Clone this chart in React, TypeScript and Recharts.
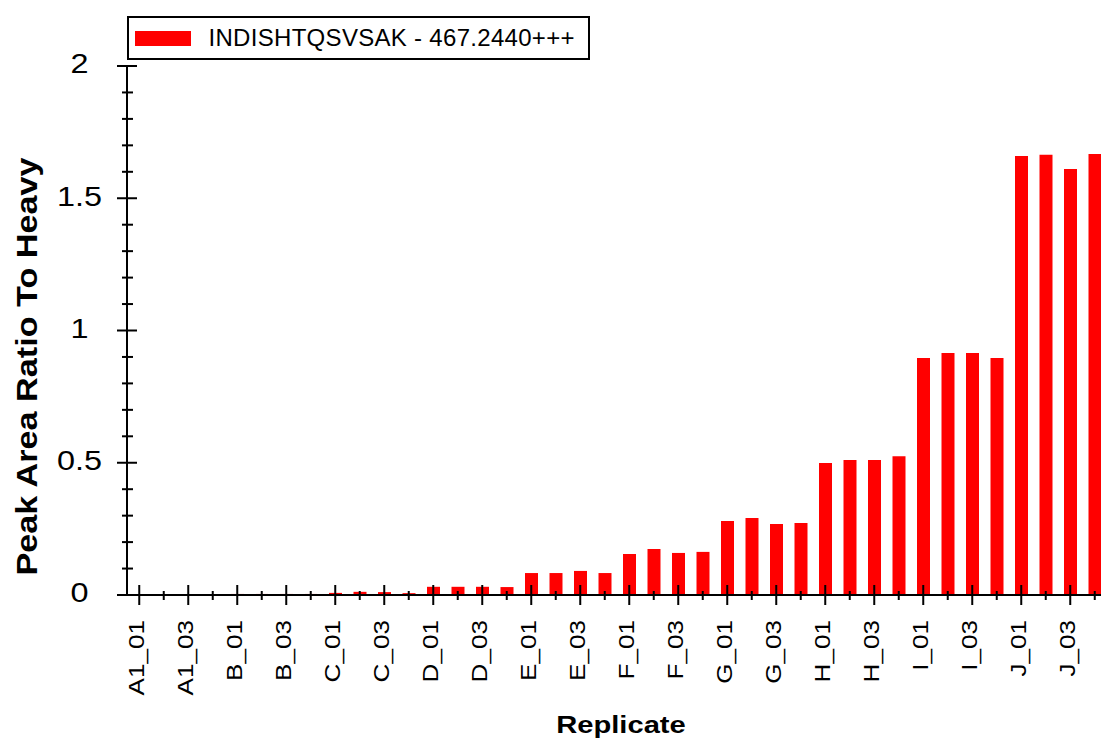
import { Bar, BarChart, Legend, XAxis, YAxis } from "recharts";

// Peak area ratio to heavy, one bar per replicate (Skyline-style export).

const replicates = [
  "A1_01", "A1_02", "A1_03", "A1_04",
  "B_01", "B_02", "B_03", "B_04",
  "C_01", "C_02", "C_03", "C_04",
  "D_01", "D_02", "D_03", "D_04",
  "E_01", "E_02", "E_03", "E_04",
  "F_01", "F_02", "F_03", "F_04",
  "G_01", "G_02", "G_03", "G_04",
  "H_01", "H_02", "H_03", "H_04",
  "I_01", "I_02", "I_03", "I_04",
  "J_01", "J_02", "J_03", "J_04",
];

const ratios = [
  0, 0, 0, 0.002,
  0.004, 0.004, 0.004, 0.004,
  0.008, 0.012, 0.011, 0.007,
  0.031, 0.031, 0.031, 0.03,
  0.083, 0.083, 0.091, 0.083,
  0.155, 0.174, 0.159, 0.163,
  0.28, 0.291, 0.268, 0.272,
  0.499, 0.51, 0.51, 0.525,
  0.896, 0.915, 0.915, 0.896,
  1.66, 1.664, 1.611, 1.667,
];

const yTicks = [
  0, 0.1, 0.2, 0.3, 0.4, 0.5, 0.6, 0.7, 0.8, 0.9, 1,
  1.1, 1.2, 1.3, 1.4, 1.5, 1.6, 1.7, 1.8, 1.9, 2,
];
const yMajor = [0, 0.5, 1, 1.5, 2];

const seriesName = "INDISHTQSVSAK - 467.2440+++";
const xTitle = "Replicate";
const yTitle = "Peak Area Ratio To Heavy";

const data = replicates.map((name, i) => ({ name, ratio: ratios[i] }));

const FONT = '"Liberation Sans", Arial, Helvetica, sans-serif';
const INK = "#000";
const RED = "#ff0000";
// the source font runs wider than Arial, so text is stretched along its baseline
const WIDE = 1.24;

function XTick(props: any) {
  const { x, y, payload } = props;
  const idx = replicates.indexOf(payload.value);
  const major = idx % 2 === 0;
  const tx = x - 3;
  const ty = y + 25;
  return (
    <g>
      <line
        x1={x}
        x2={x}
        y1={major ? y - 10 : y - 4}
        y2={major ? y + 10 : y + 5}
        stroke={INK}
        strokeWidth={2}
      />
      {major && (
        <text
          x={0}
          y={0}
          dy="0.35em"
          textAnchor="end"
          transform={`translate(${tx} ${ty}) rotate(-90) scale(1.16 1)`}
          fontFamily={FONT}
          fontSize={22.5}
          fill={INK}
        >
          {payload.value}
        </text>
      )}
    </g>
  );
}

function YTick(props: any) {
  const { x, y, payload } = props;
  const major = yMajor.some((m) => Math.abs(m - payload.value) < 1e-6);
  return (
    <g>
      <line
        x1={major ? x - 10 : x - 5}
        x2={major ? x + 10 : x + 6}
        y1={y}
        y2={y}
        stroke={INK}
        strokeWidth={2}
      />
      {major && (
        <text
          x={0}
          y={0}
          dy="0.35em"
          textAnchor="middle"
          transform={`translate(${x - 47.5} ${y - 2}) scale(1.2 1)`}
          fontFamily={FONT}
          fontSize={27}
          fill={INK}
        >
          {payload.value}
        </text>
      )}
    </g>
  );
}

function LegendBox(props: any) {
  const item = props.payload && props.payload[0];
  return (
    <div
      style={{
        boxSizing: "border-box",
        width: 463,
        height: 44,
        border: `2px solid ${INK}`,
        background: "#fff",
        display: "flex",
        alignItems: "center",
        fontFamily: FONT,
        fontSize: 24,
        color: INK,
      }}
    >
      <span
        style={{ marginLeft: 5.5, width: 56, height: 15, background: RED }}
      />
      <span style={{ marginLeft: 18, letterSpacing: 0.3, lineHeight: 1 }}>
        {item ? item.value : seriesName}
      </span>
    </div>
  );
}

export default function App() {
  return (
    <div
      style={{
        position: "absolute",
        left: 0,
        top: 0,
        width: 1101,
        height: 740,
        overflow: "hidden",
        background: "#fff",
      }}
    >
      <BarChart
        width={1110}
        height={740}
        data={data}
        margin={{ top: 66, right: 3, left: 0, bottom: 0 }}
        barSize={13}
      >
        <XAxis
          dataKey="name"
          interval={0}
          height={145}
          tickSize={0}
          tickMargin={0}
          tickLine={false}
          axisLine={{ stroke: INK, strokeWidth: 2 }}
          tick={<XTick />}
          label={{
            content: (p: any) => {
              const vb = p.viewBox;
              const lx = vb.x + vb.width / 2 + 4;
              return (
                <text
                  x={0}
                  y={0}
                  dy="0.35em"
                  textAnchor="middle"
                  transform={`translate(${lx} 725) scale(${WIDE} 1)`}
                  fontFamily={FONT}
                  fontWeight="bold"
                  fontSize={23.5}
                  fill={INK}
                >
                  {xTitle}
                </text>
              );
            },
          }}
        />
        <YAxis
          domain={[0, 2]}
          ticks={yTicks}
          interval={0}
          width={127}
          tickSize={0}
          tickMargin={0}
          tickLine={false}
          axisLine={{ stroke: INK, strokeWidth: 2 }}
          tick={<YTick />}
          label={{
            content: (p: any) => {
              const vb = p.viewBox;
              const lx = 26.5;
              const ly = vb.y + vb.height / 2 + 36;
              return (
                <text
                  x={0}
                  y={0}
                  dy="0.35em"
                  textAnchor="middle"
                  transform={`translate(${lx} ${ly}) rotate(-90) scale(1.14 1)`}
                  fontFamily={FONT}
                  fontWeight="bold"
                  fontSize={30}
                  fill={INK}
                >
                  {yTitle}
                </text>
              );
            },
          }}
        />
        <Legend
          layout="vertical"
          align="center"
          verticalAlign="middle"
          content={<LegendBox />}
          wrapperStyle={{ top: 16, left: 127, width: 463, height: 44 }}
        />
        <Bar
          dataKey="ratio"
          name={seriesName}
          fill={RED}
          isAnimationActive={false}
        />
      </BarChart>
    </div>
  );
}
